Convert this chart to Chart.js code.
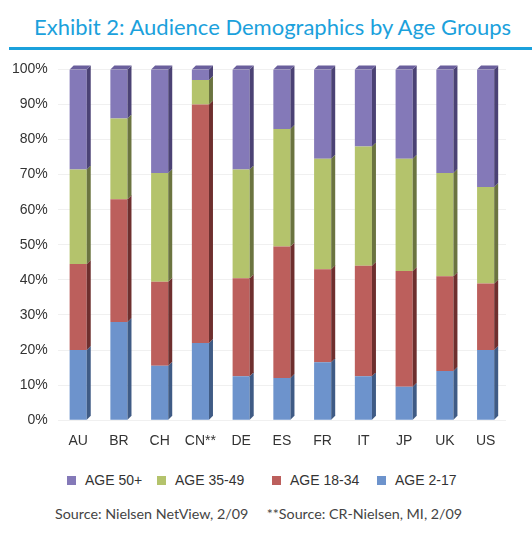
<!DOCTYPE html>
<html>
<head>
<meta charset="utf-8">
<script src="https://cdn.jsdelivr.net/npm/chart.js@4/dist/chart.umd.min.js"></script>
<style>
  body { margin: 0; background: #fff; }
  #wrap { position: relative; width: 532px; height: 547px; overflow: hidden; }
  #title {
    position: absolute; left: 34px; top: 13px; margin: 0;
    font-family: Lato, sans-serif; font-weight: normal; font-size: 22px;
    color: #1ba1dc; white-space: nowrap;
  }
  #rule { position: absolute; left: 9px; top: 47px; width: 523px; height: 3px; background: #1ba1dc; }
  #box { position: absolute; left: 0; top: 51px; width: 532px; height: 411px; }
  #legend {
    position: absolute; left: 0; top: 471px; width: 532px; height: 18px;
    font-family: "Liberation Sans", sans-serif; font-size: 14px; color: #333;
  }
  #legend span.item { position: absolute; top: 0; white-space: nowrap; line-height: 18px; }
  #legend i { display: inline-block; width: 9px; height: 9px; margin-right: 9px; vertical-align: 0px; }
  #source {
    position: absolute; left: 55px; top: 505px;
    font-family: Lato, sans-serif; font-size: 14.3px; color: #444; white-space: pre;
  }
</style>
</head>
<body>
<div id="wrap">
  <h1 id="title">Exhibit 2: Audience Demographics by Age Groups</h1>
  <div id="rule"></div>
  <div id="box"><canvas id="chart"></canvas></div>
  <div id="legend"></div>
  <div id="source">Source: Nielsen NetView, 2/09     **Source: CR-Nielsen, MI, 2/09</div>
</div>
<script>
// ====== データ ======
const categories = ['AU', 'BR', 'CH', 'CN**', 'DE', 'ES', 'FR', 'IT', 'JP', 'UK', 'US'];
const age2to17  = [20, 28, 15.5, 22, 12.5, 12, 16.5, 12.5, 9.5, 14, 20];
const age18to34 = [24.5, 35, 24, 68, 28, 37.5, 26.5, 31.5, 33, 27, 19];
const age35to49 = [27, 23, 31, 7, 31, 33.5, 31.5, 34, 32, 29.5, 27.5];
const age50plus = [28.5, 14, 29.5, 3, 28.5, 17, 25.5, 22, 25.5, 29.5, 33.5];
const seriesNames = ['AGE 2-17', 'AGE 18-34', 'AGE 35-49', 'AGE 50+'];

// 色（正面・側面・上面）
const frontColors = ['#6d93cc', '#bc5f5c', '#b4c36c', '#8479b8'];
const sideColors  = ['#3f5b85', '#6e2f2e', '#6b7440', '#4b4274'];
const topColors   = ['#5a7fb6', '#a04c49', '#98a85a', '#6a5f9c'];

const DEPTH_X = 4;
const DEPTH_Y = 4;
const FONT = 'Liberation Sans';

// 立体っぽく見せるためのプラグイン（側面と上面を描く）
const bar3d = {
    id: 'bar3d',
    afterDatasetsDraw(chart) {
        const ctx = chart.ctx;
        const last = chart.data.datasets.length - 1;
        ctx.save();
        chart.data.datasets.forEach((ds, i) => {
            const meta = chart.getDatasetMeta(i);
            meta.data.forEach(el => {
                const p = el.getProps(['x', 'y', 'base', 'width'], true);
                const left = p.x - p.width / 2;
                const right = p.x + p.width / 2;
                const top = Math.min(p.y, p.base);
                const bottom = Math.max(p.y, p.base);
                // 側面
                ctx.fillStyle = sideColors[i];
                ctx.beginPath();
                ctx.moveTo(right, top);
                ctx.lineTo(right + DEPTH_X, top - DEPTH_Y);
                ctx.lineTo(right + DEPTH_X, bottom - DEPTH_Y);
                ctx.lineTo(right, bottom);
                ctx.closePath();
                ctx.fill();
                // 上面（一番上の系列だけ）
                if (i === last) {
                    ctx.fillStyle = topColors[i];
                    ctx.beginPath();
                    ctx.moveTo(left, top);
                    ctx.lineTo(left + DEPTH_X, top - DEPTH_Y);
                    ctx.lineTo(right + DEPTH_X, top - DEPTH_Y);
                    ctx.lineTo(right, top);
                    ctx.closePath();
                    ctx.fill();
                }
            });
        });
        ctx.restore();
    }
};

const values = [age2to17, age18to34, age35to49, age50plus];

const chart = new Chart(document.getElementById('chart'), {
    type: 'bar',
    data: {
        labels: categories,
        datasets: values.map((v, i) => ({
            label: seriesNames[i],
            data: v,
            backgroundColor: frontColors[i],
            borderWidth: 0,
            barPercentage: 0.42,
            categoryPercentage: 1
        }))
    },
    options: {
        responsive: true,
        maintainAspectRatio: false,
        animation: false,
        layout: { padding: { left: 2, right: 26, top: 10, bottom: 7 } },
        scales: {
            x: {
                stacked: true,
                grid: { display: false },
                border: { display: false },
                ticks: { padding: 5, color: '#333', font: { family: FONT, size: 14 } }
            },
            y: {
                stacked: true,
                min: 0,
                max: 100,
                grid: { color: '#f0f0f0', drawTicks: false },
                border: { display: false },
                ticks: {
                    stepSize: 10,
                    padding: 10,
                    color: '#333',
                    font: { family: FONT, size: 14 },
                    callback: v => v + '%'
                }
            }
        },
        plugins: {
            tooltip: { enabled: false },
            legend: { display: false }
        }
    },
    plugins: [bar3d]
});

// ====== 凡例（上の系列から順に） ======
const legendEl = document.getElementById('legend');
const legendX = [67, 157, 272, 377];
chart.data.datasets.slice().reverse().forEach((ds, k) => {
    const span = document.createElement('span');
    span.className = 'item';
    span.style.left = legendX[k] + 'px';
    span.innerHTML = `<i style="background:${ds.backgroundColor}"></i>${ds.label}`;
    legendEl.appendChild(span);
});
</script>
</body>
</html>
